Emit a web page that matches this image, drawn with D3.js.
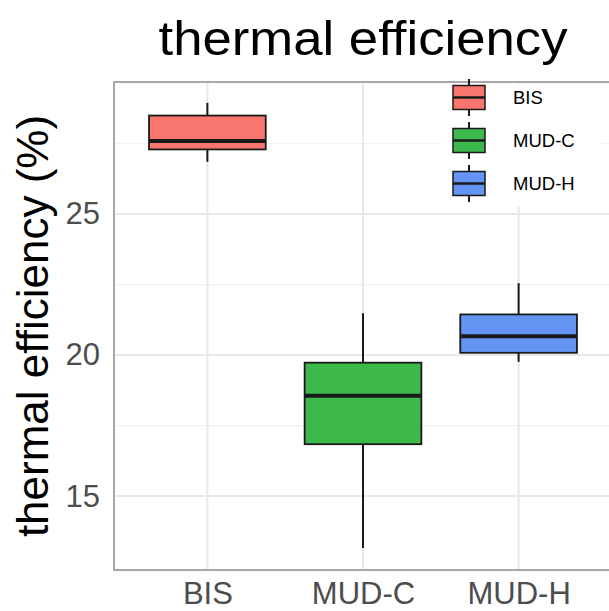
<!DOCTYPE html>
<html>
<head>
<meta charset="utf-8">
<script src="https://cdn.jsdelivr.net/npm/d3@7"></script>
<style>
  html, body { margin: 0; padding: 0; background: #fff; }
  svg { display: block; }
  text { font-family: "Liberation Sans", Arial, sans-serif; }
</style>
</head>
<body>
<svg id="chart" width="609" height="611"></svg>
<script>
// ---- data ----
const categories = ["BIS", "MUD-C", "MUD-H"];
const lowerWhisker = [26.85, 13.16, 19.76];
const q1 = [27.29, 16.84, 20.08];
const median = [27.59, 18.56, 20.67];
const q3 = [28.49, 19.73, 21.44];
const upperWhisker = [28.94, 21.48, 22.55];
const fillColors = ["#F8766D", "#3DB94B", "#6495F5"];
const yTicks = [15, 20, 25];
const yMinorTicks = [17.5, 22.5, 27.5];
const titleText = "thermal efficiency";
const yLabelText = "thermal efficiency (%)";

const boxes = categories.map((c, i) => ({
  cat: c, lo: lowerWhisker[i], q1: q1[i], med: median[i], q3: q3[i], hi: upperWhisker[i], fill: fillColors[i]
}));

// ---- layout ----
const svg = d3.select("#chart");
const panel = { left: 114, right: 612, top: 82, bottom: 570 };

const x = d3.scalePoint().domain(categories).range([panel.left, panel.right]).padding(0.6);
const y = d3.scaleLinear().domain([12.38, 29.68]).range([panel.bottom, panel.top]);
const boxW = x.step() * 0.75;

svg.append("clipPath").attr("id", "pclip")
  .append("rect").attr("x", panel.left).attr("y", panel.top)
  .attr("width", panel.right - panel.left).attr("height", panel.bottom - panel.top);

const g = svg.append("g").attr("clip-path", "url(#pclip)");

g.append("rect").attr("x", panel.left).attr("y", panel.top)
  .attr("width", panel.right - panel.left).attr("height", panel.bottom - panel.top)
  .attr("fill", "#fff");

// minor grid
g.selectAll(".minor").data(yMinorTicks).join("line")
  .attr("x1", panel.left).attr("x2", panel.right)
  .attr("y1", d => y(d)).attr("y2", d => y(d))
  .attr("stroke", "#f0f0f0").attr("stroke-width", 1.2);

// major grid
g.selectAll(".majorh").data(yTicks).join("line")
  .attr("x1", panel.left).attr("x2", panel.right)
  .attr("y1", d => y(d)).attr("y2", d => y(d))
  .attr("stroke", "#e8e8e8").attr("stroke-width", 2);
g.selectAll(".majorv").data(categories).join("line")
  .attr("y1", panel.top).attr("y2", panel.bottom)
  .attr("x1", d => x(d)).attr("x2", d => x(d))
  .attr("stroke", "#e8e8e8").attr("stroke-width", 2);

// boxes
const bg = g.selectAll(".box").data(boxes).join("g");
bg.append("line")
  .attr("x1", d => x(d.cat)).attr("x2", d => x(d.cat))
  .attr("y1", d => y(d.hi)).attr("y2", d => y(d.q3))
  .attr("stroke", "#1a1a1a").attr("stroke-width", 2);
bg.append("line")
  .attr("x1", d => x(d.cat)).attr("x2", d => x(d.cat))
  .attr("y1", d => y(d.q1)).attr("y2", d => y(d.lo))
  .attr("stroke", "#1a1a1a").attr("stroke-width", 2);
bg.append("rect")
  .attr("x", d => x(d.cat) - boxW / 2).attr("width", boxW)
  .attr("y", d => y(d.q3)).attr("height", d => y(d.q1) - y(d.q3))
  .attr("fill", d => d.fill).attr("stroke", "#1a1a1a").attr("stroke-width", 1.8);
bg.append("line")
  .attr("x1", d => x(d.cat) - boxW / 2).attr("x2", d => x(d.cat) + boxW / 2)
  .attr("y1", d => y(d.med)).attr("y2", d => y(d.med))
  .attr("stroke", "#1a1a1a").attr("stroke-width", 4);

// panel border
svg.append("rect").attr("x", panel.left).attr("y", panel.top)
  .attr("width", panel.right - panel.left).attr("height", panel.bottom - panel.top)
  .attr("fill", "none").attr("stroke", "#a8a8a8").attr("stroke-width", 2);

// y axis
const yAxis = svg.append("g").attr("transform", `translate(${panel.left},0)`)
  .call(d3.axisLeft(y).tickValues(yTicks).tickSize(0).tickPadding(14).tickFormat(d3.format("d")));
yAxis.select(".domain").remove();
yAxis.selectAll("text").attr("font-size", 31).attr("fill", "#4d4d4d")
  .attr("font-family", "'Liberation Sans', Arial, sans-serif");

// x axis
const xAxis = svg.append("g").attr("transform", `translate(0,${panel.bottom})`)
  .call(d3.axisBottom(x).tickSize(0));
xAxis.select(".domain").remove();
xAxis.selectAll("text").attr("font-size", 31).attr("fill", "#4d4d4d")
  .attr("dy", null).attr("y", 34)
  .attr("font-family", "'Liberation Sans', Arial, sans-serif");

// title
svg.append("text").attr("x", (panel.left + panel.right) / 2).attr("y", 55)
  .attr("text-anchor", "middle").attr("font-size", 48).attr("fill", "#000")
  .attr("textLength", 409).attr("lengthAdjust", "spacingAndGlyphs")
  .text(titleText);

// y label
svg.append("text")
  .attr("transform", `translate(48,${(panel.top + panel.bottom) / 2}) rotate(-90)`)
  .attr("text-anchor", "middle").attr("font-size", 44).attr("fill", "#000")
  .text(yLabelText);

// legend
const leg = svg.append("g");
leg.append("rect").attr("x", 442).attr("y", 84).attr("width", 160).attr("height", 122).attr("fill", "#fff");
const keyX = 453, keyW = 32, keyH = 37, keyStart = 79, keyGap = 43;
const items = leg.selectAll(".item").data(boxes).join("g")
  .attr("transform", (d, i) => `translate(${keyX},${keyStart + i * keyGap})`);
items.append("line").attr("x1", keyW / 2).attr("x2", keyW / 2).attr("y1", 0).attr("y2", keyH)
  .attr("stroke", "#1a1a1a").attr("stroke-width", 2);
items.append("rect").attr("x", 0).attr("y", 6.5).attr("width", keyW).attr("height", keyH - 13)
  .attr("fill", d => d.fill).attr("stroke", "#1a1a1a").attr("stroke-width", 1.5);
items.append("line").attr("x1", 0).attr("x2", keyW).attr("y1", keyH / 2).attr("y2", keyH / 2)
  .attr("stroke", "#1a1a1a").attr("stroke-width", 2.5);
items.append("text").attr("x", 60).attr("y", keyH / 2).attr("dy", "0.36em")
  .attr("font-size", 18.5).attr("fill", "#000").text(d => d.cat);
</script>
</body>
</html>
